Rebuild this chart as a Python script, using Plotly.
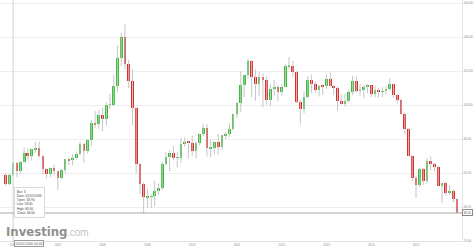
import plotly.graph_objects as go

# Monthly Brent-style candles, Nov 2005 .. Dec 2015
months = [f"{y}-{m:02d}-01" for y in range(2005, 2016) for m in range(1, 13)][10:]

opens = [59.0, 53.3,
         58.9, 66.0, 61.4, 66.6, 72.0, 70.3, 73.9, 75.0, 70.3, 62.5, 59.6, 62.7,
         60.9, 57.0, 61.8, 68.1, 67.6, 68.9, 71.4, 77.1, 72.7, 79.2, 89.4, 88.6,
         93.9, 91.8, 100.1, 100.3, 111.4, 127.4, 139.8, 124.1, 114.1, 98.2, 65.3, 53.5,
         45.6, 45.9, 46.4, 49.2, 50.9, 65.4, 69.3, 71.7, 69.0, 69.1, 77.0, 78.5,
         77.9, 72.9, 77.6, 82.7, 86.2, 74.6, 75.0, 78.0, 75.2, 82.3, 83.2, 85.9,
         94.8, 101.0, 111.8, 117.4, 125.9, 116.7, 112.5, 116.7, 114.9, 102.8, 109.6, 110.5,
         107.4, 110.9, 122.7, 122.9, 119.5, 101.9, 97.8, 104.9, 114.6, 112.4, 108.7, 111.2,
         111.1, 115.6, 111.4, 110.0, 102.4, 100.4, 102.2, 107.7, 114.0, 108.4, 108.8, 110.8,
         111.5, 106.4, 109.1, 107.8, 108.1, 109.4, 112.4, 106.0, 103.2, 94.7, 85.9, 70.2,
         57.3, 53.0, 62.6, 55.1, 66.8, 65.6, 63.6, 52.2, 54.2, 48.4, 49.6, 44.6]
highs = [59.5, 59.6,
         66.6, 66.5, 67.0, 75.0, 74.5, 74.0, 78.2, 78.6, 70.4, 62.9, 63.4, 64.9,
         61.2, 62.3, 68.3, 69.3, 71.0, 72.7, 78.4, 77.7, 80.0, 91.3, 96.6, 96.9,
         98.5, 101.5, 106.5, 117.6, 135.1, 142.4, 147.5, 126.4, 121.0, 98.8, 66.0, 54.5,
         50.5, 47.5, 55.4, 53.9, 66.6, 72.5, 73.6, 75.9, 72.6, 80.8, 80.9, 79.0,
         82.0, 78.5, 83.2, 89.0, 88.8, 79.5, 78.5, 83.0, 82.3, 84.4, 89.3, 94.9,
         101.7, 119.8, 117.6, 127.0, 126.5, 121.0, 119.5, 118.7, 117.0, 112.6, 115.0, 111.6,
         112.3, 124.0, 128.4, 126.0, 120.0, 103.2, 108.0, 117.0, 117.9, 114.0, 111.9, 112.0,
         118.0, 119.2, 112.0, 111.0, 106.0, 106.5, 109.3, 117.3, 117.0, 112.0, 112.0, 112.3,
         111.5, 111.2, 110.0, 110.5, 111.0, 115.7, 112.6, 106.5, 103.7, 95.5, 86.3, 70.5,
         58.5, 63.0, 63.0, 68.5, 69.6, 66.0, 64.0, 54.5, 54.8, 53.0, 50.5, 45.0]
lows = [52.5, 52.9,
        58.3, 57.6, 59.7, 65.9, 67.5, 67.5, 71.9, 69.1, 58.9, 56.8, 57.6, 58.6,
        49.9, 56.1, 60.0, 64.8, 64.5, 68.0, 70.5, 66.0, 71.4, 76.0, 86.5, 86.0,
        84.6, 88.0, 97.8, 99.5, 107.5, 123.0, 121.0, 109.8, 88.0, 59.6, 47.6, 36.2,
        39.6, 39.4, 40.4, 47.0, 49.9, 64.6, 61.0, 67.5, 63.2, 66.0, 75.5, 68.6,
        69.9, 68.6, 76.3, 81.5, 69.6, 69.4, 71.1, 70.8, 73.5, 80.0, 81.1, 85.0,
        92.5, 95.7, 104.6, 115.5, 104.7, 102.5, 105.0, 98.7, 99.9, 99.3, 105.5, 102.3,
        105.6, 110.5, 121.0, 116.5, 101.2, 88.5, 95.0, 104.0, 107.1, 107.0, 105.0, 106.0,
        109.5, 111.0, 106.0, 96.8, 100.3, 99.0, 101.5, 106.0, 107.5, 105.5, 104.0, 107.0,
        104.5, 104.6, 104.5, 104.5, 106.5, 108.5, 104.2, 100.9, 94.4, 82.6, 69.8, 55.3,
        45.2, 52.0, 53.0, 54.0, 61.6, 61.0, 52.0, 42.2, 46.6, 47.1, 42.6, 36.3]
closes = [53.3, 58.9,
          66.0, 61.4, 66.6, 72.0, 70.3, 73.9, 75.0, 70.3, 62.5, 59.6, 62.7, 60.9,
          57.0, 61.8, 68.1, 67.6, 68.9, 71.4, 77.1, 72.7, 79.2, 89.4, 88.6, 93.9,
          91.8, 100.1, 100.3, 111.4, 127.4, 139.8, 124.1, 114.1, 98.2, 65.3, 53.5, 45.6,
          45.9, 46.4, 49.2, 50.9, 65.4, 69.3, 71.7, 69.0, 69.1, 77.0, 78.5, 77.9,
          72.9, 77.6, 82.7, 86.2, 74.6, 75.0, 78.0, 75.2, 82.3, 83.2, 85.9, 94.8,
          101.0, 111.8, 117.4, 125.9, 116.7, 112.5, 116.7, 114.9, 102.8, 109.6, 110.5, 107.4,
          110.9, 122.7, 122.9, 119.5, 101.9, 97.8, 104.9, 114.6, 112.4, 108.7, 111.2, 111.1,
          115.6, 111.4, 110.0, 102.4, 100.4, 102.2, 107.7, 114.0, 108.4, 108.8, 110.8, 111.5,
          106.4, 109.1, 107.8, 108.1, 109.4, 112.4, 106.0, 103.2, 94.7, 85.9, 70.2, 57.3,
          53.0, 62.6, 55.1, 66.8, 65.6, 63.6, 52.2, 54.2, 48.4, 49.6, 44.6, 36.5]

y_ticks = [20, 40, 60, 80, 100, 120, 140, 160]
y_tick_labels = ["20.00", "40.00", "60.00", "80.00", "100.00", "120.00", "140.00", "160.00"]
x_ticks = [f"{y}-01-01" for y in range(2006, 2016)]
x_tick_labels = [str(y) for y in range(2006, 2016)]

cross_date = "2006-01-01"
cross_price = 36.5
tip_idx = 2

GREEN = "#36c236"
RED = "#e52a2d"

# wicks
wx, wy = [], []
for d, h, l in zip(months, highs, lows):
    wx += [d, d, None]
    wy += [l, h, None]

body_base = [min(o, c) for o, c in zip(opens, closes)]
body_h = [max(abs(c - o), 0.35) for o, c in zip(opens, closes)]
body_col = [GREEN if c >= o else RED for o, c in zip(opens, closes)]

fig = go.Figure()
fig.add_trace(go.Scatter(x=wx, y=wy, mode="lines",
                         line=dict(color="#c6c6c6", width=1), hoverinfo="skip"))
fig.add_trace(go.Bar(x=months, y=body_h, base=body_base,
                     marker=dict(color=body_col, line=dict(width=0)),
                     width=22 * 86400000))

fig.update_layout(
    width=474, height=247,
    margin=dict(l=0, r=12, t=0, b=6),
    paper_bgcolor="white", plot_bgcolor="white",
    showlegend=False, bargap=0,
    font=dict(family="Liberation Sans, Arial", size=3, color="#8a8a8a"),
    xaxis=dict(type="date", range=["2005-09-16", "2016-01-11"],
               tickvals=x_ticks, ticktext=x_tick_labels,
               showgrid=False, showline=True, linecolor="#e3e3e3", linewidth=1,
               ticks="", zeroline=False, tickfont=dict(size=3, color="#8a8a8a")),
    yaxis=dict(side="right", range=[20, 161.8],
               tickvals=y_ticks, ticktext=y_tick_labels,
               showgrid=True, gridcolor="#eeeeee", gridwidth=1,
               showline=True, linecolor="#e3e3e3", linewidth=1, mirror=False,
               ticks="", zeroline=False, tickfont=dict(size=3, color="#8a8a8a")),
)

# crosshair
fig.add_shape(type="line", xref="x", yref="paper", x0=cross_date, x1=cross_date,
              y0=0, y1=1, line=dict(color="#d0d0d0", width=1))
fig.add_shape(type="line", xref="paper", yref="y", x0=0, x1=1,
              y0=cross_price, y1=cross_price, line=dict(color="#a8a8a8", width=1))

fig.add_annotation(xref="paper", yref="y", x=1, y=cross_price, xanchor="left",
                   text=f"{cross_price:.2f}", showarrow=False,
                   font=dict(size=3, color="#555"), bgcolor="white",
                   bordercolor="#8a8a8a", borderwidth=1, borderpad=0.5, xshift=0)
fig.add_annotation(xref="x", yref="paper", x=cross_date, y=0, xanchor="left",
                   yanchor="middle", yshift=-2, xshift=1,
                   text="01/01/2006 00:00", showarrow=False,
                   font=dict(size=3.5, color="#666"), bgcolor="white",
                   bordercolor="#9a9a9a", borderwidth=1, borderpad=0.5)

tip = (f"Bar: {tip_idx + 1}<br>Date: 01/01/2006<br>Open: {opens[tip_idx]:.2f}"
       f"<br>Low: {lows[tip_idx]:.2f}<br>High: {highs[tip_idx]:.2f}"
       f"<br>Close: {closes[tip_idx]:.2f}")
fig.add_annotation(xref="x", yref="y", x=cross_date, y=33.7, xanchor="left",
                   yanchor="bottom", xshift=1, text=tip, align="left",
                   showarrow=False, font=dict(size=3.2, color="#444"),
                   bgcolor="white", bordercolor="#d8d8d8", borderwidth=1,
                   borderpad=2)

# watermark
fig.add_annotation(xref="paper", yref="paper", x=0.01, y=0.005, xanchor="left",
                   yanchor="bottom", text="<b>Investing</b>", showarrow=False,
                   font=dict(family="DejaVu Sans Condensed, DejaVu Sans", size=13,
                             color="#8f8f8f"), borderpad=0)
fig.add_annotation(xref="paper", yref="paper", x=0.143, y=0.01, xanchor="left",
                   yanchor="bottom", text=".com", showarrow=False,
                   font=dict(family="Liberation Sans, Arial", size=10,
                             color="#c2c2c2"), borderpad=0)

fig.write_html("out.html")
